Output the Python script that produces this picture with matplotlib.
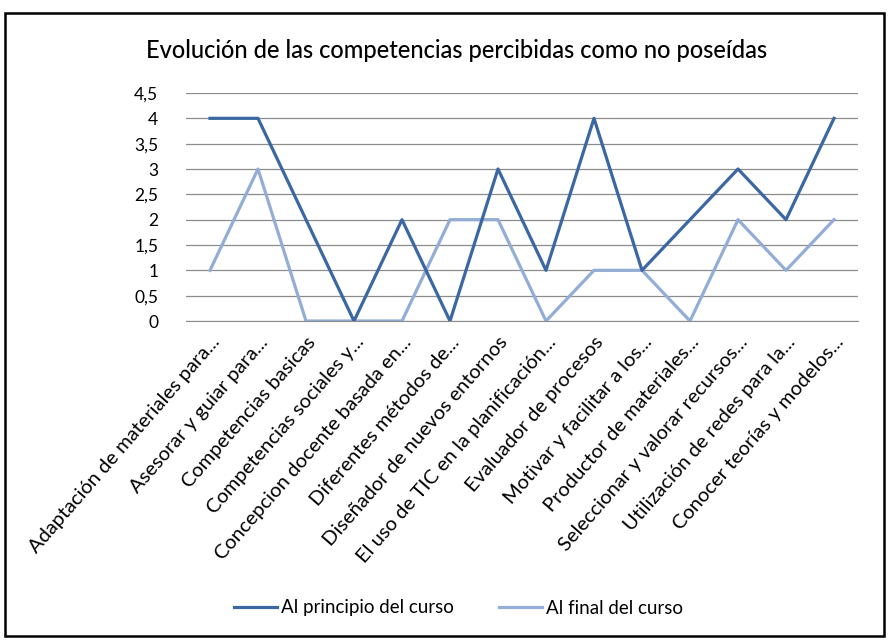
import numpy as np
import matplotlib
matplotlib.use('Agg')
import matplotlib.pyplot as plt
from matplotlib.patches import Rectangle

categories = [
    'Adaptación de materiales para...',
    'Asesorar y guiar para...',
    'Competencias basicas',
    'Competencias sociales y...',
    'Concepcion docente basada en...',
    'Diferentes métodos de...',
    'Diseñador de nuevos entornos',
    'El uso de TIC en la planificación...',
    'Evaluador de procesos',
    'Motivar y facilitar a los...',
    'Productor de materiales...',
    'Seleccionar y valorar recursos...',
    'Utilización de redes para la...',
    'Conocer teorías y modelos...',
]
inicio = [4, 4, 2, 0, 2, 0, 3, 1, 4, 1, 2, 3, 2, 4]
final = [1, 3, 0, 0, 0, 2, 2, 0, 1, 1, 0, 2, 1, 2]
yticks = [0, 0.5, 1, 1.5, 2, 2.5, 3, 3.5, 4, 4.5]
ytick_labels = ['0', '0,5', '1', '1,5', '2', '2,5', '3', '3,5', '4', '4,5']

plt.rcParams['font.family'] = ['Lato', 'DejaVu Sans']

fig = plt.figure(figsize=(8.9, 6.41), dpi=100)
ax = fig.add_axes([186 / 890, 1 - 321 / 641, 672 / 890, 228 / 641])

x = np.arange(len(categories))
dark = '#3b67a3'
light = '#93add6'
ax.plot(x, inicio, color=dark, linewidth=2.3, label='Al principio del curso', zorder=3)
ax.plot(x, final, color=light, linewidth=2.3, label='Al final del curso', zorder=2)

ax.set_xlim(-0.5, len(categories) - 0.5)
ax.set_ylim(0, 4.5)
ax.set_yticks(yticks)
ax.set_yticklabels(ytick_labels, fontsize=12.5)
ax.yaxis.grid(True, color='#8c8c8c', linewidth=0.9)
ax.set_axisbelow(True)
for s in ['top', 'right', 'left']:
    ax.spines[s].set_visible(False)
ax.spines['bottom'].set_color('#8c8c8c')
ax.tick_params(axis='y', length=0, pad=20)
ax.tick_params(axis='x', length=0, pad=9)
ax.set_xticks(x)
ax.set_xticklabels(categories, rotation=49, ha='right', rotation_mode='anchor', fontsize=14.5)

fig.text(0.513, 1 - 50 / 641, 'Evolución de las competencias percibidas como no poseídas',
         ha='center', va='center', fontsize=17, fontweight='medium')

fig.legend(loc='center', bbox_to_anchor=(0.515, 1 - 608 / 641), ncol=2, frameon=False,
           fontsize=13.5, handlelength=2.3, handletextpad=0.2, columnspacing=2.4)

fig.patches.append(Rectangle((5 / 890, 1 - 636 / 641), 879 / 890, 623 / 641,
                             transform=fig.transFigure, fill=False, edgecolor='black',
                             linewidth=1.8))

fig.savefig('out.png', dpi=100)
